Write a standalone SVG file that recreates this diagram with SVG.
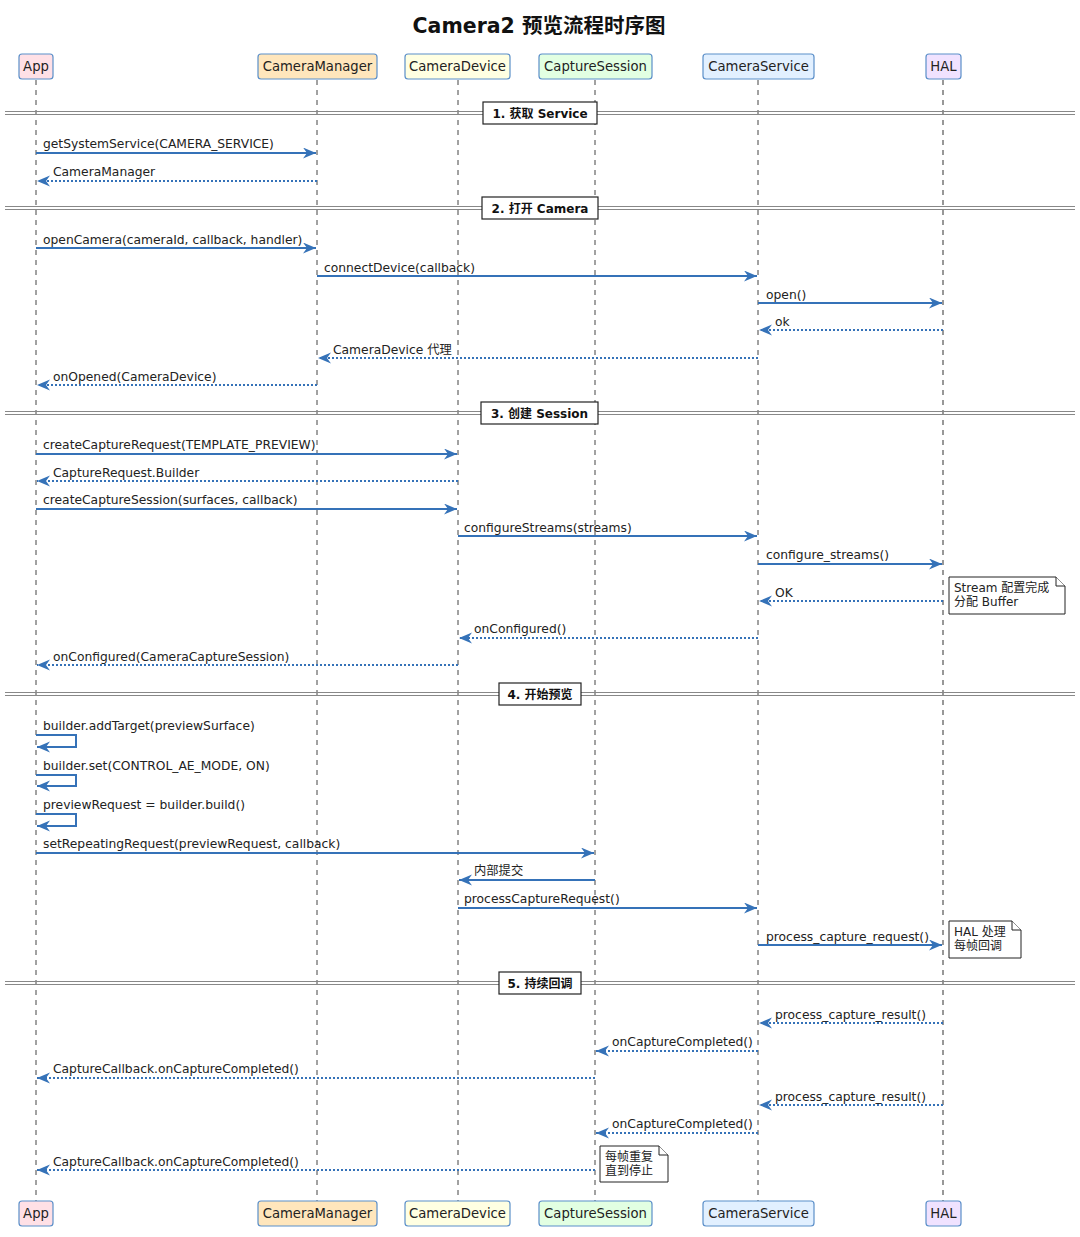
<svg xmlns="http://www.w3.org/2000/svg" width="1080" height="1237" viewBox="0 0 1080 1237">
<style>
  .title { font-family: "DejaVu Sans", "Noto Sans CJK SC", sans-serif; font-size: 20.5px; font-weight: bold; fill: #111; }
  .pbox { stroke: #5B8FC9; stroke-width: 1.2; }
  .ptxt { font-family: "DejaVu Sans", "Noto Sans CJK SC", sans-serif; font-size: 13.2px; fill: #222; text-anchor: middle; }
  .life { stroke: #444; stroke-width: 1; stroke-dasharray: 5 5; fill: none; }
  .sep { stroke: #888; stroke-width: 1; }
  .secbox { fill: #fff; stroke: #222; stroke-width: 1.2; }
  .sectxt { font-family: "DejaVu Sans", "Noto Sans CJK SC", sans-serif; font-size: 12px; font-weight: bold; fill: #111; text-anchor: middle; }
  .msg { stroke: #3572B8; stroke-width: 2; fill: none; marker-end: url(#arr); }
  .ret { stroke: #3572B8; stroke-width: 2; stroke-dasharray: 2 2; fill: none; marker-end: url(#arr); }
  .lbl { font-family: "DejaVu Sans", "Noto Sans CJK SC", sans-serif; font-size: 12.3px; fill: #222; }
  .note { fill: #fff; stroke: #222; stroke-width: 1; }
  .ntxt { font-family: "DejaVu Sans", "Noto Sans CJK SC", sans-serif; font-size: 12px; fill: #222; }
</style>
<defs>
  <marker id="arr" markerUnits="userSpaceOnUse" markerWidth="14" markerHeight="12" refX="13" refY="5.5" orient="auto">
    <path d="M0,0 L13,5.5 L0,11 L4,5.5 Z" fill="#3572B8"/>
  </marker>
</defs>
<rect width="1080" height="1237" fill="#fff"/>
<text class="title" x="539" y="33" text-anchor="middle">Camera2 预览流程时序图</text>

<g id="lifelines">
  <line class="life" x1="36" y1="80" x2="36" y2="1201"/>
  <line class="life" x1="317" y1="80" x2="317" y2="1201"/>
  <line class="life" x1="458" y1="80" x2="458" y2="1201"/>
  <line class="life" x1="595" y1="80" x2="595" y2="1201"/>
  <line class="life" x1="758" y1="80" x2="758" y2="1201"/>
  <line class="life" x1="943" y1="80" x2="943" y2="1201" style="stroke:#777;stroke-width:1.5"/>
</g>

<g id="App">
  <rect class="pbox" x="19" y="54" width="34" height="25" rx="3" fill="#FFE0E6"/>
  <text class="ptxt" x="36" y="71">App</text>
  <rect class="pbox" x="19" y="1201" width="34" height="25" rx="3" fill="#FFE0E6"/>
  <text class="ptxt" x="36" y="1218">App</text>
</g>
<g id="CameraManager">
  <rect class="pbox" x="258" y="54" width="119" height="25" rx="3" fill="#FFE6BC"/>
  <text class="ptxt" x="317.5" y="71">CameraManager</text>
  <rect class="pbox" x="258" y="1201" width="119" height="25" rx="3" fill="#FFE6BC"/>
  <text class="ptxt" x="317.5" y="1218">CameraManager</text>
</g>
<g id="CameraDevice">
  <rect class="pbox" x="405" y="54" width="105" height="25" rx="3" fill="#FFFFE2"/>
  <text class="ptxt" x="457.5" y="71">CameraDevice</text>
  <rect class="pbox" x="405" y="1201" width="105" height="25" rx="3" fill="#FFFFE2"/>
  <text class="ptxt" x="457.5" y="1218">CameraDevice</text>
</g>
<g id="CaptureSession">
  <rect class="pbox" x="539" y="54" width="113" height="25" rx="3" fill="#E2FFE2"/>
  <text class="ptxt" x="595.5" y="71">CaptureSession</text>
  <rect class="pbox" x="539" y="1201" width="113" height="25" rx="3" fill="#E2FFE2"/>
  <text class="ptxt" x="595.5" y="1218">CaptureSession</text>
</g>
<g id="CameraService">
  <rect class="pbox" x="703" y="54" width="111" height="25" rx="3" fill="#E2F0FF"/>
  <text class="ptxt" x="758.5" y="71">CameraService</text>
  <rect class="pbox" x="703" y="1201" width="111" height="25" rx="3" fill="#E2F0FF"/>
  <text class="ptxt" x="758.5" y="1218">CameraService</text>
</g>
<g id="HAL">
  <rect class="pbox" x="926" y="54" width="35" height="25" rx="3" fill="#F0E2FF"/>
  <text class="ptxt" x="943.5" y="71">HAL</text>
  <rect class="pbox" x="926" y="1201" width="35" height="25" rx="3" fill="#F0E2FF"/>
  <text class="ptxt" x="943.5" y="1218">HAL</text>
</g>

<g id="sections">
  <line class="sep" x1="5" y1="111.5" x2="1075" y2="111.5"/><line class="sep" x1="5" y1="114.5" x2="1075" y2="114.5"/>
  <rect class="secbox" x="483" y="102" width="114" height="22"/>
  <text class="sectxt" x="540" y="118">1. 获取 Service</text>

  <line class="sep" x1="5" y1="206.5" x2="1075" y2="206.5"/><line class="sep" x1="5" y1="209.5" x2="1075" y2="209.5"/>
  <rect class="secbox" x="482" y="197" width="116" height="22"/>
  <text class="sectxt" x="540" y="213">2. 打开 Camera</text>

  <line class="sep" x1="5" y1="411.5" x2="1075" y2="411.5"/><line class="sep" x1="5" y1="414.5" x2="1075" y2="414.5"/>
  <rect class="secbox" x="481" y="402" width="117" height="22"/>
  <text class="sectxt" x="539.5" y="418">3. 创建 Session</text>

  <line class="sep" x1="5" y1="692.5" x2="1075" y2="692.5"/><line class="sep" x1="5" y1="695.5" x2="1075" y2="695.5"/>
  <rect class="secbox" x="499" y="683" width="82" height="22"/>
  <text class="sectxt" x="540" y="699">4. 开始预览</text>

  <line class="sep" x1="5" y1="981.5" x2="1075" y2="981.5"/><line class="sep" x1="5" y1="984.5" x2="1075" y2="984.5"/>
  <rect class="secbox" x="499" y="972" width="82" height="22"/>
  <text class="sectxt" x="540" y="988">5. 持续回调</text>
</g>

<g id="connectors">
  <line class="msg" x1="36" y1="153" x2="316" y2="153"/>
  <text class="lbl" x="43" y="148">getSystemService(CAMERA_SERVICE)</text>
  <line class="ret" x1="317" y1="181" x2="37" y2="181"/>
  <text class="lbl" x="53" y="176">CameraManager</text>

  <line class="msg" x1="36" y1="248" x2="316" y2="248"/>
  <text class="lbl" x="43" y="244">openCamera(cameraId, callback, handler)</text>
  <line class="msg" x1="317" y1="276" x2="757" y2="276"/>
  <text class="lbl" x="324" y="272">connectDevice(callback)</text>
  <line class="msg" x1="758" y1="303" x2="942" y2="303"/>
  <text class="lbl" x="766" y="299">open()</text>
  <line class="ret" x1="943" y1="330" x2="759" y2="330"/>
  <text class="lbl" x="775" y="326">ok</text>
  <line class="ret" x1="758" y1="358" x2="318" y2="358"/>
  <text class="lbl" x="333" y="354">CameraDevice 代理</text>
  <line class="ret" x1="317" y1="385" x2="37" y2="385"/>
  <text class="lbl" x="53" y="381">onOpened(CameraDevice)</text>

  <line class="msg" x1="36" y1="454" x2="457" y2="454"/>
  <text class="lbl" x="43" y="449">createCaptureRequest(TEMPLATE_PREVIEW)</text>
  <line class="ret" x1="458" y1="481" x2="37" y2="481"/>
  <text class="lbl" x="53" y="477">CaptureRequest.Builder</text>
  <line class="msg" x1="36" y1="509" x2="457" y2="509"/>
  <text class="lbl" x="43" y="504">createCaptureSession(surfaces, callback)</text>
  <line class="msg" x1="458" y1="536" x2="757" y2="536"/>
  <text class="lbl" x="464" y="532">configureStreams(streams)</text>
  <line class="msg" x1="758" y1="564" x2="942" y2="564"/>
  <text class="lbl" x="766" y="559">configure_streams()</text>
  <line class="ret" x1="943" y1="601" x2="759" y2="601"/>
  <text class="lbl" x="775" y="597">OK</text>
  <line class="ret" x1="758" y1="638" x2="459" y2="638"/>
  <text class="lbl" x="474" y="633">onConfigured()</text>
  <line class="ret" x1="458" y1="665" x2="37" y2="665"/>
  <text class="lbl" x="53" y="661">onConfigured(CameraCaptureSession)</text>

  <path class="msg" d="M36,735 H76 V747 H37"/>
  <text class="lbl" x="43" y="730">builder.addTarget(previewSurface)</text>
  <path class="msg" d="M36,775 H76 V786 H37"/>
  <text class="lbl" x="43" y="770">builder.set(CONTROL_AE_MODE, ON)</text>
  <path class="msg" d="M36,814 H76 V826 H37"/>
  <text class="lbl" x="43" y="809">previewRequest = builder.build()</text>
  <line class="msg" x1="36" y1="853" x2="594" y2="853"/>
  <text class="lbl" x="43" y="848">setRepeatingRequest(previewRequest, callback)</text>
  <line class="msg" x1="595" y1="880" x2="459" y2="880"/>
  <text class="lbl" x="474" y="875">内部提交</text>
  <line class="msg" x1="458" y1="908" x2="757" y2="908"/>
  <text class="lbl" x="464" y="903">processCaptureRequest()</text>
  <line class="msg" x1="758" y1="945" x2="942" y2="945"/>
  <text class="lbl" x="766" y="941">process_capture_request()</text>

  <line class="ret" x1="943" y1="1023" x2="759" y2="1023"/>
  <text class="lbl" x="775" y="1019">process_capture_result()</text>
  <line class="ret" x1="758" y1="1051" x2="596" y2="1051"/>
  <text class="lbl" x="612" y="1046">onCaptureCompleted()</text>
  <line class="ret" x1="595" y1="1078" x2="37" y2="1078"/>
  <text class="lbl" x="53" y="1073">CaptureCallback.onCaptureCompleted()</text>
  <line class="ret" x1="943" y1="1105" x2="759" y2="1105"/>
  <text class="lbl" x="775" y="1101">process_capture_result()</text>
  <line class="ret" x1="758" y1="1133" x2="596" y2="1133"/>
  <text class="lbl" x="612" y="1128">onCaptureCompleted()</text>
  <line class="ret" x1="595" y1="1170" x2="37" y2="1170"/>
  <text class="lbl" x="53" y="1166">CaptureCallback.onCaptureCompleted()</text>
</g>

<g id="note1">
  <path class="note" d="M949,577 H1056 L1065,586 V614 H949 Z"/>
  <path class="note" d="M1056,577 V586 H1065" fill="none"/>
  <text class="ntxt" x="954" y="592">Stream 配置完成</text>
  <text class="ntxt" x="954" y="606">分配 Buffer</text>
</g>
<g id="note2">
  <path class="note" d="M949,921 H1012 L1021,930 V958 H949 Z"/>
  <path class="note" d="M1012,921 V930 H1021" fill="none"/>
  <text class="ntxt" x="954" y="936">HAL 处理</text>
  <text class="ntxt" x="954" y="950">每帧回调</text>
</g>
<g id="note3">
  <path class="note" d="M600,1146 H659 L668,1155 V1182 H600 Z"/>
  <path class="note" d="M659,1146 V1155 H668" fill="none"/>
  <text class="ntxt" x="605" y="1161">每帧重复</text>
  <text class="ntxt" x="605" y="1175">直到停止</text>
</g>
</svg>
